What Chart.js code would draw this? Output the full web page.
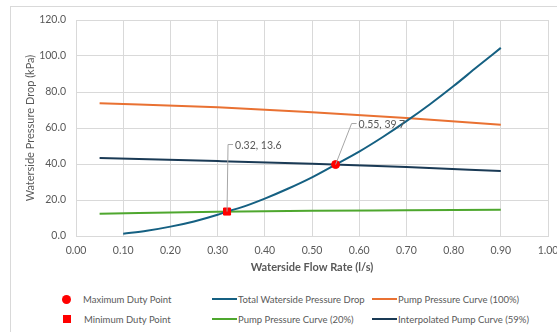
<!DOCTYPE html>
<html>
<head>
<meta charset="utf-8">
<script src="https://cdn.jsdelivr.net/npm/chart.js@4.4.1/dist/chart.umd.min.js"></script>
<style>
  html, body { margin: 0; padding: 0; background: #fff; }
  body { width: 557px; height: 332px; overflow: hidden; position: relative; font-family: Lato, "Liberation Sans", sans-serif; }
  #frame { position: absolute; left: 10px; top: 6px; width: 560px; height: 340px; border: 1px solid #d9d9d9; box-sizing: border-box; }
  #wrap { position: absolute; left: 0; top: 0; width: 557px; height: 280px; }
  #legend { position: absolute; left: 0; top: 291px; width: 557px; height: 40px; font-size: 9.5px; color: #595959; }
  .item { position: absolute; display: flex; align-items: center; height: 16px; white-space: nowrap; }
  .mk { display: inline-block; margin-right: 1px; }
</style>
</head>
<body>
<div id="frame"></div>
<div id="wrap"><canvas id="chart"></canvas></div>
<div id="legend"></div>
<script>
// values
const totalFlow = [0.10, 0.15, 0.20, 0.25, 0.30, 0.32, 0.35, 0.40, 0.45, 0.50, 0.55, 0.60, 0.65, 0.70, 0.75, 0.80, 0.85, 0.90];
const totalDrop = [1.3, 2.9, 5.2, 8.1, 11.8, 13.6, 15.9, 20.8, 26.4, 32.6, 39.7, 46.9, 55.0, 63.8, 73.2, 83.3, 94.0, 104.5];

const pumpFlow = [0.05, 0.30, 0.50, 0.70, 0.90];
const pump100 = [73.8, 71.5, 68.7, 65.5, 61.8];
const pump20 = [12.4, 13.5, 14.0, 14.3, 14.6];
const pump59 = [43.3, 41.6, 40.1, 38.3, 36.1];

const maxDuty = [0.55, 39.7];
const minDuty = [0.32, 13.6];

const xTicks = [0, 0.1, 0.2, 0.3, 0.4, 0.5, 0.6, 0.7, 0.8, 0.9, 1.0];
const yTicks = [0, 20, 40, 60, 80, 100, 120];

const toPts = (xs, ys) => xs.map((x, i) => ({ x: x, y: ys[i] }));
const grey = '#595959';
const fontFam = 'Lato, "Liberation Sans", sans-serif';

const datasets = [
    {
        label: 'Maximum Duty Point',
        data: [{ x: maxDuty[0], y: maxDuty[1] }],
        pointStyle: 'circle', pointRadius: 4, backgroundColor: '#ff0000', borderColor: '#ff0000',
        showLine: false, order: 0, legendPos: [60, 0]
    },
    {
        label: 'Total Waterside Pressure Drop',
        data: toPts(totalFlow, totalDrop),
        borderColor: '#156082', borderWidth: 2, pointRadius: 0, showLine: true,
        cubicInterpolationMode: 'monotone', order: 2, legendPos: [212, 0]
    },
    {
        label: 'Pump Pressure Curve (100%)',
        data: toPts(pumpFlow, pump100),
        borderColor: '#e97132', borderWidth: 2, pointRadius: 0, showLine: true,
        cubicInterpolationMode: 'monotone', order: 3, legendPos: [372, 0]
    },
    {
        label: 'Minimum Duty Point',
        data: [{ x: minDuty[0], y: minDuty[1] }],
        pointStyle: 'rect', pointRadius: 5, backgroundColor: '#ff0000', borderColor: '#ff0000',
        showLine: false, order: 0, legendPos: [60, 20]
    },
    {
        label: 'Pump Pressure Curve (20%)',
        data: toPts(pumpFlow, pump20),
        borderColor: '#4ea72e', borderWidth: 2, pointRadius: 0, showLine: true,
        cubicInterpolationMode: 'monotone', order: 3, legendPos: [212, 20]
    },
    {
        label: 'Interpolated Pump Curve (59%)',
        data: toPts(pumpFlow, pump59),
        borderColor: '#1a3a55', borderWidth: 2, pointRadius: 0, showLine: true,
        cubicInterpolationMode: 'monotone', order: 3, legendPos: [372, 20]
    }
];

// data labels with leader lines for the duty points
const dutyLabels = {
    id: 'dutyLabels',
    afterDatasetsDraw(chart) {
        const ctx = chart.ctx;
        const xs = chart.scales.x, ys = chart.scales.y;
        const items = [
            { p: minDuty, text: '0.32, 13.6', dx: 1, dy: -67, hook: 5 },
            { p: maxDuty, text: '0.55, 39.7', dx: 16, dy: -41, hook: 5 }
        ];
        ctx.save();
        items.forEach(it => {
            const px = xs.getPixelForValue(it.p[0]);
            const py = ys.getPixelForValue(it.p[1]);
            const ex = px + it.dx, ey = py + it.dy;
            ctx.strokeStyle = '#a6a6a6';
            ctx.lineWidth = 1;
            ctx.beginPath();
            ctx.moveTo(px, py);
            ctx.lineTo(ex, ey);
            ctx.lineTo(ex + it.hook, ey);
            ctx.stroke();
            ctx.fillStyle = grey;
            ctx.font = '10.5px ' + fontFam;
            ctx.textBaseline = 'middle';
            ctx.fillText(it.text, ex + it.hook + 2, ey + 1);
        });
        ctx.restore();
    }
};

new Chart(document.getElementById('chart'), {
    type: 'scatter',
    data: { datasets: datasets },
    options: {
        responsive: true,
        maintainAspectRatio: false,
        animation: false,
        layout: { padding: { left: 24, right: 9, top: 20, bottom: 6 } },
        scales: {
            x: {
                type: 'linear', min: 0, max: 1,
                afterBuildTicks: s => { s.ticks = xTicks.map(v => ({ value: v })); },
                afterFit: s => { s.height = 38; s.paddingLeft = 0; s.paddingRight = 0; },
                grid: { color: '#d9d9d9', drawTicks: false },
                border: { color: '#d9d9d9' },
                ticks: { color: grey, padding: 8, font: { size: 10.5, family: fontFam }, callback: v => v.toFixed(2), maxRotation: 0 },
                title: { display: true, text: 'Waterside Flow Rate (l/s)', color: grey, font: { size: 11, family: fontFam, weight: 'bold' }, padding: { top: 0, bottom: 0 } }
            },
            y: {
                type: 'linear', min: 0, max: 120,
                afterBuildTicks: s => { s.ticks = yTicks.map(v => ({ value: v })); },
                afterFit: s => { s.width = 52; },
                grid: { color: '#d9d9d9', drawTicks: false },
                border: { color: '#d9d9d9' },
                ticks: { color: grey, padding: 10, font: { size: 10.5, family: fontFam }, callback: v => v.toFixed(1) },
                title: { display: true, text: 'Waterside Pressure Drop (kPa)', color: grey, font: { size: 11, family: fontFam }, padding: 0 }
            }
        },
        plugins: {
            legend: { display: false },
            tooltip: { enabled: false }
        }
    },
    plugins: [dutyLabels]
});

// legend in three columns, as in the reference
const legend = document.getElementById('legend');
datasets.forEach(ds => {
    const item = document.createElement('div');
    item.className = 'item';
    item.style.left = ds.legendPos[0] + 'px';
    item.style.top = ds.legendPos[1] + 'px';
    const mk = document.createElement('span');
    mk.className = 'mk';
    if (ds.showLine) {
        mk.style.width = '25px';
        mk.style.height = '2px';
        mk.style.background = ds.borderColor;
    } else if (ds.pointStyle === 'circle') {
        mk.style.width = '9px';
        mk.style.height = '9px';
        mk.style.borderRadius = '50%';
        mk.style.margin = '0 12px 0 2px';
        mk.style.background = ds.backgroundColor;
    } else {
        mk.style.width = '8px';
        mk.style.height = '8px';
        mk.style.margin = '0 13px 0 3px';
        mk.style.background = ds.backgroundColor;
    }
    item.appendChild(mk);
    const t = document.createElement('span');
    t.textContent = ds.label;
    item.appendChild(t);
    legend.appendChild(item);
});
</script>
</body>
</html>
